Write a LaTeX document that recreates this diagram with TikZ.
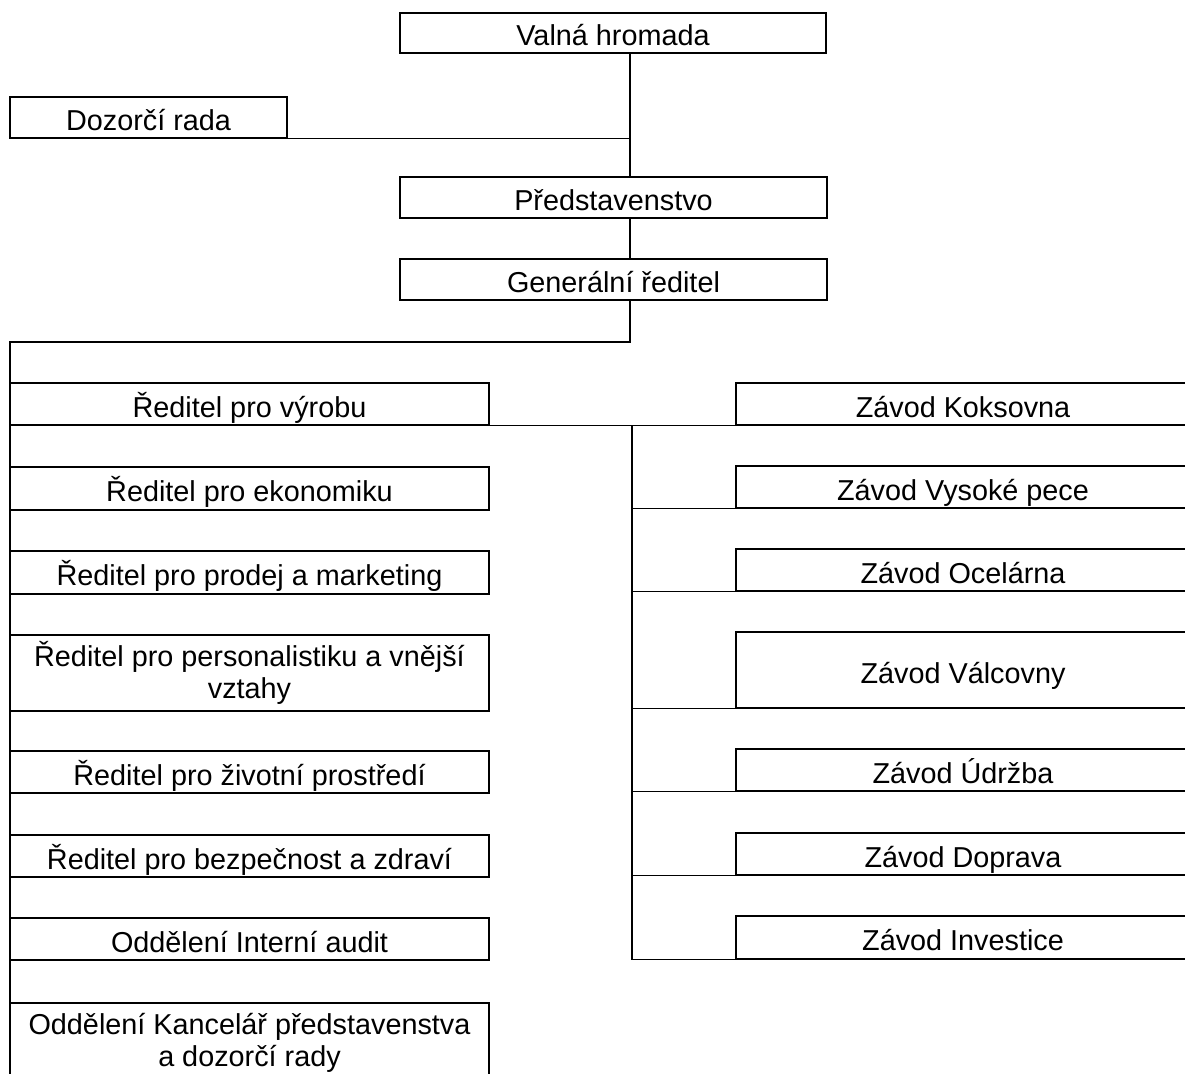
\documentclass[tikz,border=0pt]{standalone}
\usepackage{fontspec}
\setmainfont{Liberation Sans}
\begin{document}
\begin{tikzpicture}[x=1pt,y=-1pt,
  box/.style={draw,line width=1.3pt,rectangle,inner sep=0pt,align=center,
    font=\fontsize{28.8}{32}\selectfont},
  oneline/.style={text height=26pt,text depth=0pt},
  conn/.style={line width=1.3pt}]
\useasboundingbox (0,0) rectangle (1185,1073);
% top
\node[box,oneline,minimum width=426pt,minimum height=40pt] (VH) at (613,33) {Valná hromada};
\node[box,oneline,minimum width=277pt,minimum height=41pt] (DR) at (148.5,117.5) {Dozorčí rada};
\node[box,oneline,minimum width=427pt,minimum height=41pt] (P) at (613.5,197.5) {Představenstvo};
\node[box,oneline,minimum width=427pt,minimum height=41pt] (GR) at (613.5,279.5) {Generální ředitel};
% left column
\tikzset{lbox/.style={box,minimum width=479pt}}
\node[lbox,oneline,minimum height=42pt] (L1) at (249.5,404) {Ředitel pro výrobu};
\node[lbox,oneline,minimum height=43pt] (L2) at (249.5,488.5) {Ředitel pro ekonomiku};
\node[lbox,oneline,minimum height=43pt] (L3) at (249.5,572.5) {Ředitel pro prodej a marketing};
\node[lbox,minimum height=76pt] (L4) at (249.5,673) {Ředitel pro personalistiku a vnější\\vztahy};
\node[lbox,oneline,minimum height=42pt] (L5) at (249.5,772) {Ředitel pro životní prostředí};
\node[lbox,oneline,minimum height=42pt] (L6) at (249.5,856) {Ředitel pro bezpečnost a zdraví};
\node[lbox,oneline,minimum height=42pt] (L7) at (249.5,939) {Oddělení Interní audit};
\node[lbox,minimum height=80pt] (L8) at (249.5,1043) {Oddělení Kancelář představenstva\\a dozorčí rady};
% right column
\tikzset{rbox/.style={box,minimum width=454pt}}
\node[rbox,oneline,minimum height=42pt] (R1) at (963,404) {Závod Koksovna};
\node[rbox,oneline,minimum height=42pt] (R2) at (963,487) {Závod Vysoké pece};
\node[rbox,oneline,minimum height=42pt] (R3) at (963,570) {Závod Ocelárna};
\node[rbox,oneline,minimum height=76pt] (R4) at (963,670) {Závod Válcovny};
\node[rbox,oneline,minimum height=42pt] (R5) at (963,770) {Závod Údržba};
\node[rbox,oneline,minimum height=42pt] (R6) at (963,854) {Závod Doprava};
\node[rbox,oneline,minimum height=43pt] (R7) at (963,937.5) {Závod Investice};
% connector coordinates
\coordinate (t) at (630,0);
\coordinate (bus) at (630,342);
\coordinate (lb) at (10,342);
\coordinate (lend) at (10,1085);
\coordinate (rt) at (632,0);
\coordinate (rend) at (1190,0);
% connectors
\draw[conn] (VH.south -| t) -- (P.north -| t);
\draw[conn] (DR.south east) -- (DR.south east -| t);
\draw[conn] (P.south -| t) -- (GR.north -| t);
\draw[conn] (GR.south -| t) -- (bus) -- (lb) -- (lend);
\draw[conn] (L1.south east) -- (L1.south east -| rend);
\draw[conn] (L1.south east -| rt) -- (R7.south -| rt);
\foreach \r in {R2,R3,R4,R5,R6,R7}{
  \draw[conn] (\r.south -| rt) -- (\r.south west);
}
\end{tikzpicture}
\end{document}
